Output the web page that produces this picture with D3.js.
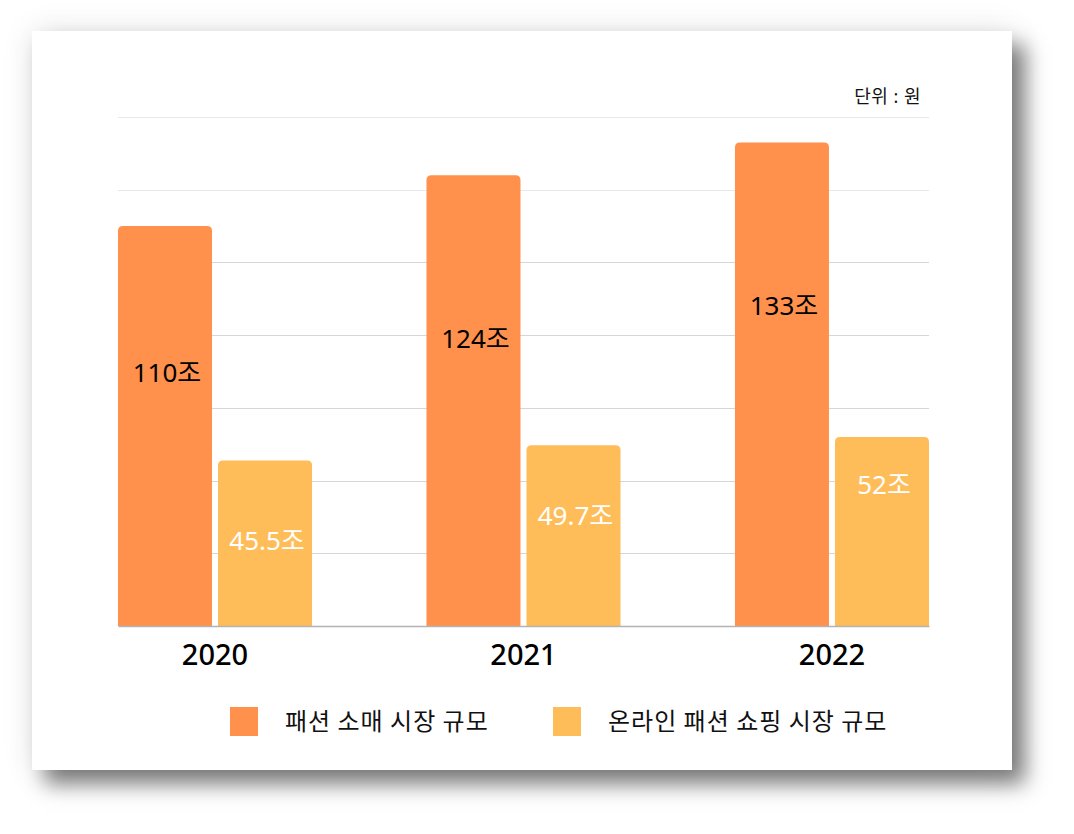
<!DOCTYPE html>
<html>
<head>
<meta charset="utf-8">
<script src="https://cdn.jsdelivr.net/npm/d3@7"></script>
<style>
  body { margin: 0; background: #fff; width: 1074px; height: 834px; overflow: hidden; position: relative; }
  .card {
    position: absolute; left: 32px; top: 31px; width: 980px; height: 739px;
    background: #fff;
    box-shadow: 13px 14px 20px rgba(0,0,0,0.5), 0 0 30px rgba(0,0,0,0.10);
  }
  svg { position: absolute; left: 0; top: 0; }
  text { font-family: "Noto Sans", "Noto Sans CJK KR", sans-serif; }
</style>
</head>
<body>
<div class="card"></div>
<div id="chart"></div>
<script>
// data
var years = ['2020', '2021', '2022'];
var seriesNames = ['패션 소매 시장 규모', '온라인 패션 쇼핑 시장 규모'];
var retail = [110, 124, 133];
var online = [45.5, 49.7, 52];
var valueLabels = [['110조', '45.5조'], ['124조', '49.7조'], ['133조', '52조']];
var unitNote = '단위 : 원';

// where each value label sits, as a share of its bar height
var labelLift = [[0.61, 0.46], [0.616, 0.56], [0.643, 0.70]];

var colors = ['#FF914D', '#FFBD59'];

var svgWidth = 1074;
var svgHeight = 834;

var margins = { top: 117, bottom: 208, left: 118, right: 145 };
var width = svgWidth - margins.left - margins.right;
var height = svgHeight - margins.top - margins.bottom;

var svg = d3.select('#chart')
    .append('svg')
    .attr('width', svgWidth)
    .attr('height', svgHeight);

var chartGroup = svg.append('g')
    .attr('transform', `translate(${margins.left}, ${margins.top})`);

// scales
var x0 = d3.scaleBand()
    .domain(years)
    .range([0, width])
    .paddingInner(0.371)
    .paddingOuter(0);

var x1 = d3.scaleBand()
    .domain([0, 1])
    .range([0, x0.bandwidth()])
    .paddingInner(0.06);

var y = d3.scaleLinear()
    .domain([0, 140])
    .range([height, 0]);

// gridlines
chartGroup.append('g')
    .selectAll('line')
    .data(y.ticks(7).filter(t => t > 0))
    .enter()
    .append('line')
    .attr('x1', 0)
    .attr('x2', width)
    .attr('y1', d => Math.round(y(d)) + 0.5)
    .attr('y2', d => Math.round(y(d)) + 0.5)
    .attr('stroke', d => d >= 120 ? '#e8e8e8' : '#d6d6d6')
    .attr('stroke-width', 1);

// bars
var rows = years.map((yr, i) => ({
    year: yr,
    vals: [retail[i], online[i]],
    labels: valueLabels[i],
    lift: labelLift[i]
}));

var groups = chartGroup.selectAll('.yr')
    .data(rows)
    .enter()
    .append('g')
    .attr('class', 'yr')
    .attr('transform', d => `translate(${x0(d.year)}, 0)`);

function topRounded(x, yTop, w, h, r) {
    return `M${x},${yTop + h} V${yTop + r} Q${x},${yTop} ${x + r},${yTop} H${x + w - r} Q${x + w},${yTop} ${x + w},${yTop + r} V${yTop + h} Z`;
}

groups.selectAll('path')
    .data(d => d.vals.map((v, k) => ({ v: v, k: k })))
    .enter()
    .append('path')
    .attr('d', d => topRounded(x1(d.k), y(d.v), x1.bandwidth(), height - y(d.v), 5))
    .attr('fill', d => colors[d.k]);

groups.selectAll('.val')
    .data(d => d.vals.map((v, k) => ({ v: v, k: k, label: d.labels[k], lift: d.lift[k] })))
    .enter()
    .append('text')
    .attr('class', 'val')
    .attr('x', d => x1(d.k) + x1.bandwidth() / 2 + 2)
    .attr('y', d => y(d.v * d.lift))
    .attr('text-anchor', 'middle')
    .style('font-size', '26px')
    .style('font-weight', 400)
    .style('fill', d => d.k === 0 ? '#000' : '#fff')
    .text(d => d.label);

// x axis
var bottomAxis = d3.axisBottom(x0).tickSize(0).tickPadding(0);

var xAxis = chartGroup.append('g')
    .attr('transform', `translate(0, ${height})`)
    .call(bottomAxis);

xAxis.select('.domain')
    .attr('stroke', '#b3b3b3')
    .attr('stroke-width', 1.5);

xAxis.selectAll('text')
    .attr('dy', 0)
    .attr('y', 39)
    .style('font-size', '29px')
    .style('font-weight', 500)
    .style('fill', '#000')
    .style('font-family', '"Noto Sans", "Noto Sans CJK KR", sans-serif');

// unit note
chartGroup.append('text')
    .attr('x', width - 8)
    .attr('y', -14)
    .attr('text-anchor', 'end')
    .style('font-size', '18px')
    .style('letter-spacing', '0.5px')
    .style('fill', '#111')
    .text(unitNote);

// legend
var legendX = [230, 553];
var legend = svg.append('g')
    .selectAll('g')
    .data(seriesNames)
    .enter()
    .append('g')
    .attr('transform', (d, i) => `translate(${legendX[i]}, 707)`);

legend.append('rect')
    .attr('width', 28)
    .attr('height', 29)
    .attr('fill', (d, i) => colors[i]);

legend.append('text')
    .attr('x', 55)
    .attr('y', 23)
    .style('font-size', '24px')
    .style('letter-spacing', '1px')
    .style('fill', '#111')
    .style('font-family', '"Noto Sans CJK KR", sans-serif')
    .text(d => d);
</script>
</body>
</html>
